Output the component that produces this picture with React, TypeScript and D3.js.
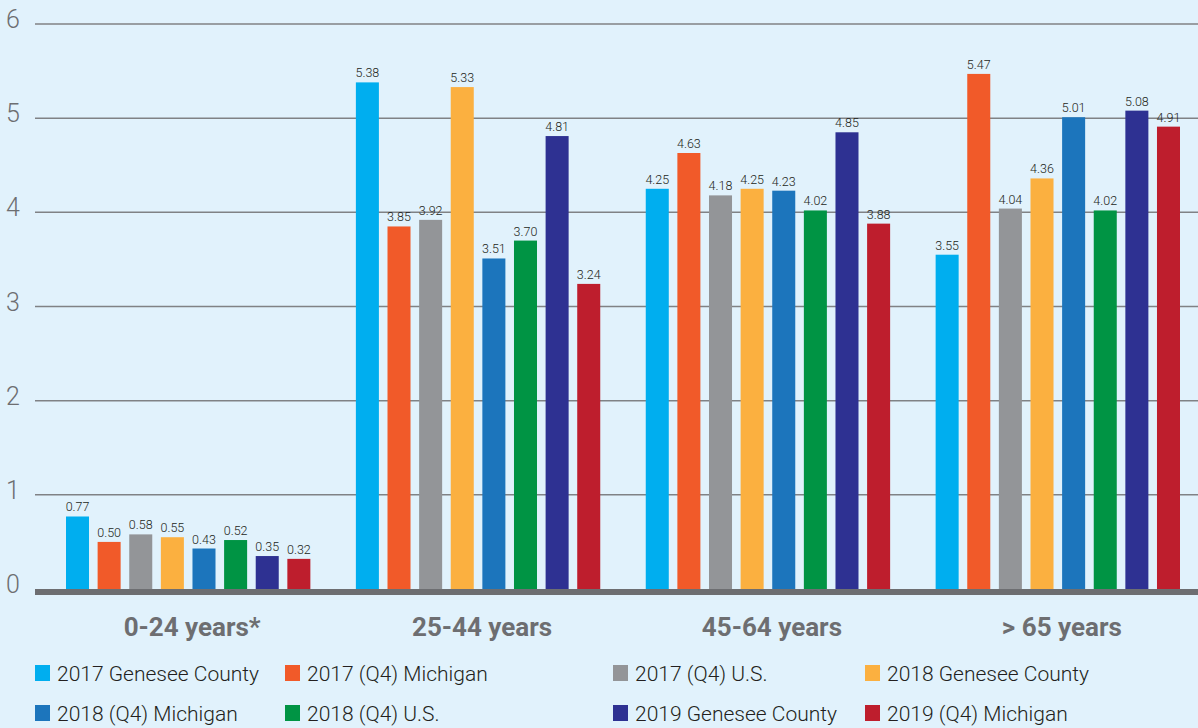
import React, { useEffect, useRef } from 'react';
import * as d3 from 'd3';

const groups = ['0-24 years*', '25-44 years', '45-64 years', '> 65 years'];
const seriesNames = [
  '2017 Genesee County',
  '2017 (Q4) Michigan',
  '2017 (Q4) U.S.',
  '2018 Genesee County',
  '2018 (Q4) Michigan',
  '2018 (Q4) U.S.',
  '2019 Genesee County',
  '2019 (Q4) Michigan',
];
const colors = ['#00aeef', '#f15a29', '#939598', '#fbb040', '#1c75bc', '#009444', '#2e3192', '#be1e2d'];

const age0to24 = [0.77, 0.5, 0.58, 0.55, 0.43, 0.52, 0.35, 0.32];
const age25to44 = [5.38, 3.85, 3.92, 5.33, 3.51, 3.7, 4.81, 3.24];
const age45to64 = [4.25, 4.63, 4.18, 4.25, 4.23, 4.02, 4.85, 3.88];
const age65plus = [3.55, 5.47, 4.04, 4.36, 5.01, 4.02, 5.08, 4.91];
const yTicks = [0, 1, 2, 3, 4, 5, 6];

const W = 1198;
const H = 728;

export default function App() {
  const ref = useRef<SVGSVGElement>(null);

  useEffect(() => {
    document.body.style.margin = '0';
    const svg = d3.select(ref.current);
    svg.selectAll('*').remove();

    const values = [age0to24, age25to44, age45to64, age65plus];

    svg.append('rect').attr('width', W).attr('height', H).attr('fill', '#e1f2fc');

    const y = d3.scaleLinear().domain([0, 6]).range([589, 24]);
    const x0 = d3.scaleBand().domain(groups).range([66, 1180]).paddingInner(0.157).paddingOuter(0);
    const x1 = d3.scaleBand().domain(seriesNames).range([0, x0.bandwidth()]).paddingInner(0.272).paddingOuter(0);

    // gridlines + y labels
    const grid = svg.append('g');
    grid.selectAll('line')
      .data(yTicks.filter(t => t > 0))
      .join('line')
      .attr('x1', 35).attr('x2', W)
      .attr('y1', d => y(d)).attr('y2', d => y(d))
      .attr('stroke', '#808285').attr('stroke-width', 1.5);
    grid.selectAll('text')
      .data(yTicks)
      .join('text')
      .attr('x', 13)
      .attr('y', d => y(d) + 4)
      .attr('text-anchor', 'middle')
      .attr('font-family', 'Roboto, sans-serif')
      .attr('font-weight', 300)
      .attr('font-size', 25)
      .attr('fill', '#6d6e71')
      .text(d => d);

    // bars
    groups.forEach((g, gi) => {
      const gEl = svg.append('g').attr('transform', `translate(${x0(g)},0)`);
      const rows = seriesNames.map((s, si) => ({ s, v: values[gi][si], c: colors[si] }));
      gEl.selectAll('rect')
        .data(rows)
        .join('rect')
        .attr('x', d => x1(d.s)!)
        .attr('y', d => y(d.v))
        .attr('width', x1.bandwidth())
        .attr('height', d => y(0) - y(d.v))
        .attr('fill', d => d.c);
      gEl.selectAll('text')
        .data(rows)
        .join('text')
        .attr('x', d => x1(d.s)! + x1.bandwidth() / 2)
        .attr('y', d => y(d.v) - 5)
        .attr('text-anchor', 'middle')
        .attr('font-family', 'Roboto, sans-serif')
        .attr('font-weight', 300)
        .attr('font-size', 12.5)
        .attr('fill', '#231f20')
        .text(d => d.v.toFixed(2));
    });

    // baseline
    svg.append('line')
      .attr('x1', 35).attr('x2', W)
      .attr('y1', y(0) + 3).attr('y2', y(0) + 3)
      .attr('stroke', '#6d6e71').attr('stroke-width', 6);

    // group labels
    svg.append('g').selectAll('text')
      .data(groups)
      .join('text')
      .attr('x', d => x0(d)! + x0.bandwidth() / 2 + 4)
      .attr('y', 636)
      .attr('text-anchor', 'middle')
      .attr('font-family', 'Roboto, sans-serif')
      .attr('font-weight', 700)
      .attr('font-size', 26)
      .attr('fill', '#6d6e71')
      .text(d => d);

    // legend
    const colX = [35, 285, 613, 865];
    const legend = svg.append('g');
    const items = legend.selectAll('g')
      .data(seriesNames)
      .join('g')
      .attr('transform', (d, i) => `translate(${colX[i % 4]},${i < 4 ? 665 : 705})`);
    items.append('rect')
      .attr('width', 15).attr('height', 16)
      .attr('fill', (d, i) => colors[i]);
    items.append('text')
      .attr('x', 22)
      .attr('y', 16)
      .attr('font-family', 'Roboto, sans-serif')
      .attr('font-weight', 300)
      .attr('font-size', 21)
      .attr('fill', '#231f20')
      .text(d => d);
  }, []);

  return <svg ref={ref} width={W} height={H} style={{ display: 'block' }} />;
}
